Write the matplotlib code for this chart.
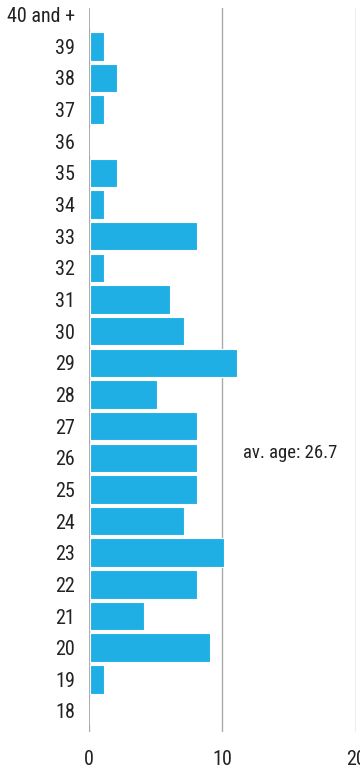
import matplotlib
matplotlib.use("Agg")
import matplotlib.pyplot as plt
from matplotlib import font_manager

ages = ["18", "19", "20", "21", "22", "23", "24", "25", "26", "27", "28",
        "29", "30", "31", "32", "33", "34", "35", "36", "37", "38", "39", "40 and +"]
counts = [0, 1, 9, 4, 8, 10, 7, 8, 8, 8, 5,
          11, 7, 6, 1, 8, 1, 2, 0, 1, 2, 1, 0]
avg_label = "av. age: 26.7"
xticks = [0, 10, 20]

names = {f.name for f in font_manager.fontManager.ttflist}
family = "DejaVu Sans"
for cand in ["Roboto Condensed", "Liberation Sans Narrow", "Open Sans Condensed", "Roboto"]:
    if cand in names:
        family = cand
        break
plt.rcParams["font.family"] = family

fig = plt.figure(figsize=(3.6, 7.72), dpi=100)
ax = fig.add_axes([0.247, 0.052, 0.742, 0.938])

ypos = list(range(len(ages)))
ax.barh(ypos, counts, height=0.9, color="#1fafe5", edgecolor="#ffffff",
        linewidth=0.8, left=0.1, zorder=3)

ax.set_xlim(0, 20)
ax.set_ylim(-0.66, len(ages) - 0.78)
ax.set_xticks(xticks)
ax.set_yticks(ypos)
ax.set_yticklabels(ages)

for s in ["top", "right", "bottom", "left"]:
    ax.spines[s].set_visible(False)
for x in xticks:
    ax.axvline(x, color="#aaaaaa", linewidth=1, zorder=1)

ax.tick_params(axis="both", length=0, labelsize=14.5, colors="#222222")
ax.tick_params(axis="y", pad=10)
ax.tick_params(axis="x", pad=13)
for lbl in ax.get_yticklabels():
    lbl.set_va("center_baseline")

ax.text(11.5, 8.15, avg_label, fontsize=13.5, color="#222222", va="center", ha="left")

fig.savefig("out.png", dpi=100)
